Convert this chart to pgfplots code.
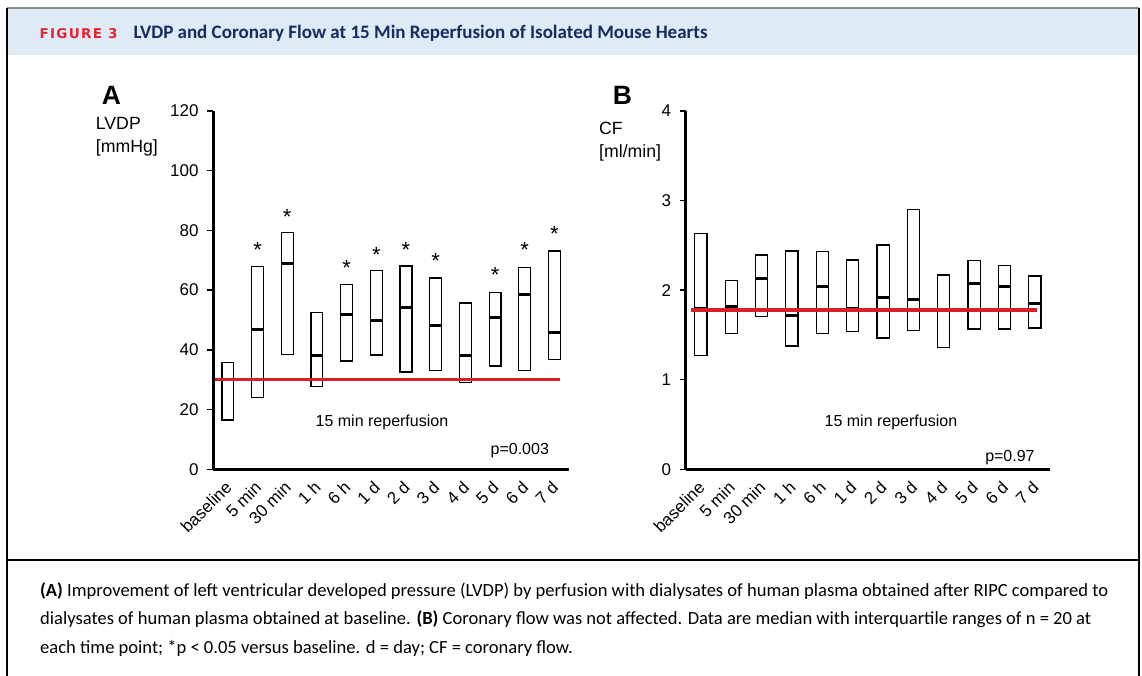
\documentclass[border=0pt]{standalone}
\usepackage{fontspec}
\setmainfont{Liberation Sans}
\newfontfamily\capfont{Carlito}
\newfontfamily\figfont[LetterSpace=10]{DejaVu Sans}
\usepackage{pgfplots}
\pgfplotsset{compat=1.18}
\usepgfplotslibrary{statistics}
\definecolor{hdrblue}{RGB}{222,234,246}
\definecolor{figred}{RGB}{228,36,46}
\definecolor{navy}{RGB}{22,44,94}
\definecolor{linered}{RGB}{214,31,38}
\newcommand{\bx}[4]{\addplot[black, line width=1.2pt, boxplot prepared={draw direction=y, draw position=#1, lower whisker=#2, lower quartile=#2, median=#3, upper quartile=#4, upper whisker=#4, box extend=0.4, whisker extend=0}] coordinates {};}
\pgfplotsset{panel/.style={scale only axis, height=358.3pt, xmin=-0.5, xmax=11.5, ymin=0,
  axis x line*=bottom, axis y line*=left, axis line style={line width=3pt, black},
  tick align=outside, major tick length=6pt, ytick style={line width=1.5pt, black},
  xtick style={draw=none}, xtick={0,...,11},
  xticklabels={baseline,5 min,30 min,1 h,6 h,1 d,2 d,3 d,4 d,5 d,6 d,7 d},
  xticklabel style={rotate=45, anchor=east, inner sep=0pt, yshift=-7pt, xshift=-6pt, font=\fontsize{17}{17}\selectfont},
  yticklabel style={xshift=-5pt, font=\fontsize{17}{17}\selectfont},
  clip=false, boxplot/every median/.style={line width=3pt}}}
\begin{document}
\begin{tikzpicture}
\useasboundingbox (0pt,0pt) rectangle (1142pt,676pt);
\fill[white] (0pt,0pt) rectangle (1142pt,676pt);
\fill[hdrblue] (8pt,666.5pt) rectangle (1138pt,621pt);
\draw[black!45, line width=1.5pt] (7pt,668pt) -- (1139pt,668pt);
\draw[black, line width=2pt] (7pt,668pt) -- (7pt,0pt);
\draw[black, line width=2.5pt] (1139pt,668pt) -- (1139pt,0pt);
\draw[black, line width=1.5pt] (7pt,116pt) -- (1139pt,116pt);
\node[anchor=base west, inner sep=0pt, text=figred, font=\figfont\bfseries\fontsize{13.5}{13.5}\selectfont] at (39.3pt,637pt) {FIGURE 3};
\node[anchor=base west, inner sep=0pt, text=navy, font=\capfont\bfseries\fontsize{19}{19}\selectfont] at (133.3pt,637pt) {LVDP and Coronary Flow at 15 Min Reperfusion of Isolated Mouse Hearts};
\begin{scope}[every node/.style={anchor=base west, inner sep=0pt, font=\capfont\fontsize{18.55}{18.55}\selectfont}]
\node at (40pt,79.3pt) {\textbf{(A)} Improvement of left ventricular developed pressure (LVDP) by perfusion with dialysates of human plasma obtained after RIPC compared to};
\node at (40pt,51pt) {dialysates of human plasma obtained at baseline. \textbf{(B)} Coronary flow was not affected. Data are median with interquartile ranges of n = 20 at};
\node at (40pt,22.7pt) {each time point; *p < 0.05 versus baseline. d = day; CF = coronary flow.};
\end{scope}
% panel labels
\node[anchor=base west, inner sep=0pt, font=\bfseries\fontsize{26.5}{26.5}\selectfont] at (101.7pt,571pt) {A};
\node[anchor=base west, inner sep=0pt, font=\bfseries\fontsize{26.5}{26.5}\selectfont] at (612.7pt,571pt) {B};
\node[anchor=base west, inner sep=0pt, font=\fontsize{17.7}{17.7}\selectfont] at (95.7pt,546pt) {LVDP};
\node[anchor=base west, inner sep=0pt, font=\fontsize{17.7}{17.7}\selectfont] at (95.7pt,523pt) {[mmHg]};
\node[anchor=base west, inner sep=0pt, font=\fontsize{17.7}{17.7}\selectfont] at (599pt,541pt) {CF};
\node[anchor=base west, inner sep=0pt, font=\fontsize{17.7}{17.7}\selectfont] at (599pt,518pt) {[ml/min]};
% Panel A
\begin{axis}[panel, at={(213pt,206.7pt)}, anchor=south west, width=356.3pt, ymax=120,
  ytick={0,20,40,60,80,100,120}, yticklabels={0,20,40,60,80,100,120}]
\bx{0}{16.5}{30}{35.7}
\bx{1}{24.0}{46.8}{67.9}
\bx{2}{38.4}{68.8}{79.3}
\bx{3}{27.6}{38.2}{52.4}
\bx{4}{36.3}{51.8}{61.8}
\bx{5}{38.3}{49.8}{66.5}
\bx{6}{32.6}{54.1}{68.1}
\bx{7}{33.0}{48.2}{64.1}
\bx{8}{29.0}{38.2}{55.7}
\bx{9}{34.6}{50.7}{59.3}
\bx{10}{33.0}{58.5}{67.6}
\bx{11}{36.7}{45.7}{73.1}
\addplot[linered, line width=3.5pt] coordinates {(-0.42,30) (11.2,30)};
\addplot[draw=none, nodes near coords={*}, every node near coord/.style={anchor=base, inner sep=0pt, font=\fontsize{22}{22}\selectfont}]
  coordinates {(1,71.0) (2,82.1) (4,64.8) (5,69.4) (6,71.0) (7,67.4) (9,62.4) (10,71.0) (11,76.3)};
\node[anchor=base, inner sep=0pt, font=\fontsize{16}{16}\selectfont] at (axis cs:5.19,14.3) {15 min reperfusion};
\node[anchor=base east, inner sep=0pt, font=\fontsize{16}{16}\selectfont] at (axis cs:10.82,4.8) {p=0.003};
\end{axis}
% Panel B
\begin{axis}[panel, at={(685.7pt,206.7pt)}, anchor=south west, width=364.3pt, ymax=4,
  ytick={0,1,2,3,4}, yticklabels={0,1,2,3,4}]
\bx{0}{1.273}{1.793}{2.631}
\bx{1}{1.514}{1.812}{2.110}
\bx{2}{1.708}{2.128}{2.393}
\bx{3}{1.377}{1.719}{2.437}
\bx{4}{1.518}{2.043}{2.430}
\bx{5}{1.540}{1.793}{2.337}
\bx{6}{1.466}{1.920}{2.504}
\bx{7}{1.548}{1.890}{2.902}
\bx{8}{1.358}{1.770}{2.169}
\bx{9}{1.567}{2.073}{2.329}
\bx{10}{1.567}{2.039}{2.277}
\bx{11}{1.578}{1.853}{2.158}
\addplot[linered, line width=3.5pt] coordinates {(-0.33,1.779) (11.06,1.779)};
\node[anchor=base, inner sep=0pt, font=\fontsize{16}{16}\selectfont] at (axis cs:6.26,0.476) {15 min reperfusion};
\node[anchor=base east, inner sep=0pt, font=\fontsize{16}{16}\selectfont] at (axis cs:11.0,0.085) {p=0.97};
\end{axis}
\end{tikzpicture}
\end{document}
